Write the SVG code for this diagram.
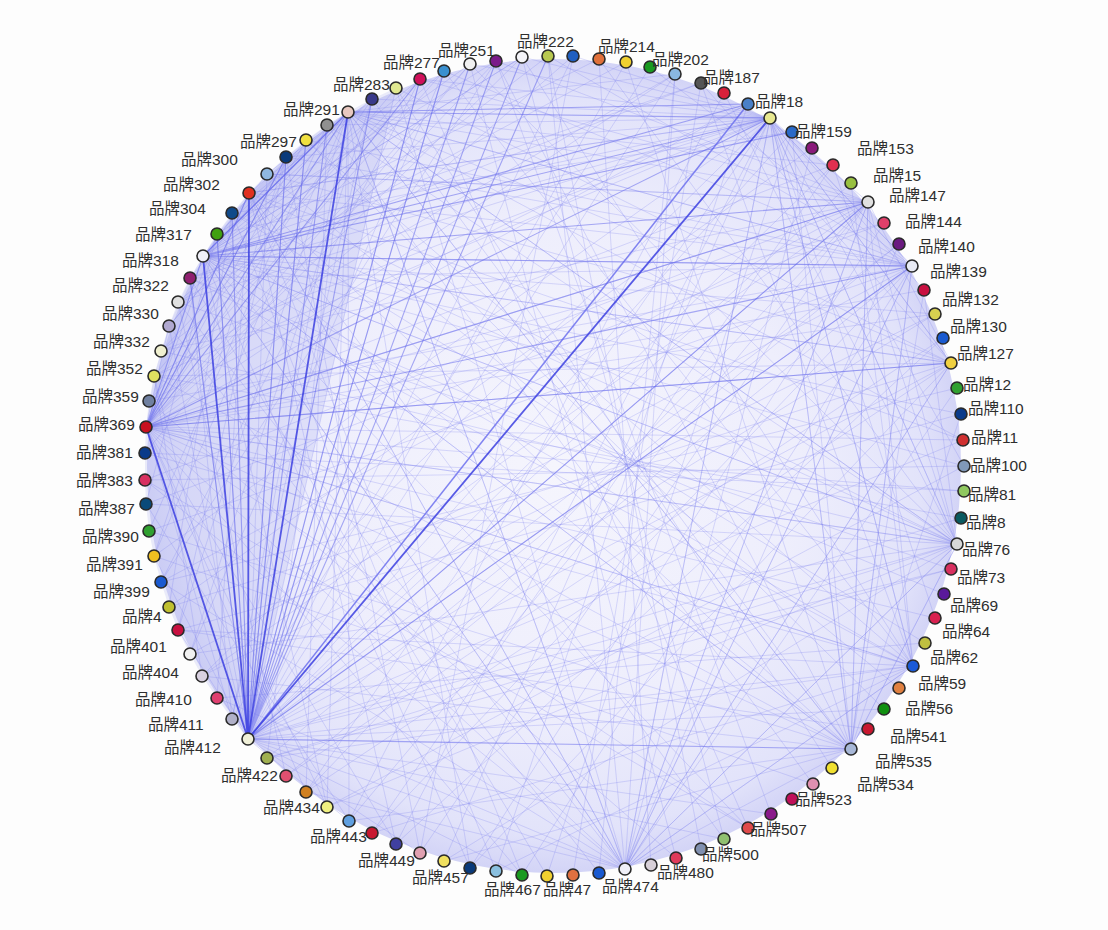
<svg xmlns="http://www.w3.org/2000/svg" width="1108" height="930" viewBox="0 0 1108 930">
<defs>
<radialGradient id="bg" cx="554" cy="466" r="409" gradientUnits="userSpaceOnUse">
<stop offset="0" stop-color="#f5f5fd"/>
<stop offset="0.6" stop-color="#eeeefc"/>
<stop offset="0.9" stop-color="#e2e3fa"/>
<stop offset="1" stop-color="#d2d3f6"/>
</radialGradient>
<style>
.f{fill:none;stroke:#7c80ee;stroke-opacity:.33;stroke-width:.8}
.m{fill:none;stroke:#5a5eec;stroke-opacity:.5;stroke-width:1.1}
.s{fill:none;stroke:#3c40e0;stroke-opacity:.85;stroke-width:1.8}
.n circle{stroke:#2a2a2a;stroke-width:1.6}
.lb text{font-family:"Liberation Sans","Noto Sans CJK SC",sans-serif;font-size:15.5px;fill:#2e2e2e}
</style>
</defs>
<rect width="1108" height="930" fill="#fdfdfd"/>
<circle cx="554" cy="466" r="407" fill="url(#bg)"/>
<polygon points="248,739 232,719 217,698 202,676 190,654 178,630 169,607 161,582 154,556 149,531 146,504 145,480 145,453 146,427 149,401 154,376 161,351 169,326 178,302 190,278 203,256 217,234 232,213 249,193 267,174 286,157 306,140 327,125 348,112 372,99 396,88" fill="#b8bbf2" fill-opacity=".28"/>
<polygon points="146,427 154,376 169,326 190,278 217,234 249,193 286,157 327,125 348,112 203,256" fill="#a8abf0" fill-opacity=".22"/>
<g id="connectors">
<path class="f" d="M248 739L420 79M248 739L286 157M248 739L217 234M248 739L190 278M248 739L169 326M248 739L154 376M248 739L935 314M248 739L951 363M248 739L957 544M248 739L913 666M248 739L963 440M248 739L573 56M248 739L626 62M248 739L675 74M248 739L792 132M248 739L833 165M248 739L625 869M248 739L522 875M248 739L420 853M248 739L349 821M248 739L154 556M248 739L178 630M248 739L724 839M248 739L771 814M248 739L951 569M248 739L306 140M248 739L267 174M248 739L444 71M248 739L396 88M248 739L868 202M248 739L912 266M248 739L851 183M248 739L899 244M248 739L961 518M248 739L884 709"/>
<path class="m" d="M248 739L372 99M248 739L327 125M248 739L232 213M248 739L286 157M248 739L851 749M248 739L420 79M248 739L444 71M248 739L470 64M248 739L496 61M248 739L522 57M248 739L548 56M248 739L217 234M248 739L190 278M248 739L306 140M248 739L868 202M248 739L912 266"/>
<path class="m" d="M248 739L748 104" style="stroke-opacity:.75;stroke-width:1.5"/>
<path class="f" d="M146 427L249 193M146 427L286 157M146 427L951 363M146 427L957 544M146 427L963 440M146 427L851 749M146 427L913 666M146 427L625 869M146 427L470 64M146 427L522 57M146 427L573 56M146 427L675 74M146 427L833 165M146 427L935 314M146 427L964 491M146 427L935 618M146 427L748 828M146 427L522 875M146 427L396 844M146 427L327 807M146 427L232 719M146 427L169 326M146 427L217 234M146 427L306 140M146 427L372 99M146 427L748 104M146 427L924 290M146 427L884 223"/>
<path class="m" d="M146 427L770 118M146 427L203 256M146 427L249 193M146 427L868 202M146 427L912 266M146 427L951 363M146 427L420 79M146 427L286 157"/>
<path class="f" d="M203 256L957 544M203 256L851 749M203 256L625 869M203 256L522 57M203 256L599 59M203 256L701 83M203 256L420 79M203 256L267 174M203 256L372 99M203 256L470 64M203 256L327 807M203 256L470 868M203 256L748 828M203 256L964 466M203 256L935 314M203 256L951 363M203 256L961 414"/>
<path class="m" d="M203 256L770 118M203 256L348 112M203 256L748 104M203 256L792 132M203 256L868 202M203 256L912 266"/>
<path class="f" d="M348 112L868 202M348 112L912 266M348 112L349 821M348 112L625 869M348 112L327 807M348 112L470 868M348 112L178 630M348 112L154 556M348 112L851 749M348 112L957 544M348 112L963 440M348 112L169 326M348 112L217 234M348 112L249 193M348 112L267 174M348 112L951 363M348 112L833 165M348 112L675 74M348 112L267 758M348 112L232 719"/>
<path class="m" d="M348 112L770 118M348 112L203 256M348 112L146 427M348 112L748 104"/>
<path class="f" d="M770 118L249 193M770 118L286 157M770 118L372 99M770 118L420 79M770 118L868 202M770 118L912 266M770 118L924 290M770 118L951 363M770 118L957 544M770 118L913 666M770 118L851 749M770 118L625 869M770 118L935 618M770 118L964 466M770 118L444 861M770 118L396 844M770 118L306 792M770 118L202 676M770 118L154 556M770 118L154 376M770 118L178 302M770 118L217 234M770 118L522 57M770 118L470 64M770 118L573 56M770 118L327 125M770 118L190 278M770 118L161 351"/>
<path class="f" d="M868 202L957 544M868 202L851 749M868 202L625 869M868 202L420 853M868 202L349 821M868 202L202 676M868 202L161 582M868 202L145 480M868 202L161 351M868 202L267 174M868 202L420 79M868 202L496 61M868 202L951 363M868 202L913 666M868 202L306 792M868 202L146 427"/>
<path class="f" d="M912 266L851 749M912 266L625 869M912 266L522 875M912 266L372 833M912 266L286 776M912 266L190 654M912 266L149 531M912 266L149 401M912 266L190 278M912 266L286 157M912 266L444 71M912 266L548 56M912 266L650 67M912 266L770 118M912 266L203 256M912 266L348 112"/>
<path class="f" d="M951 363L625 869M951 363L470 868M951 363L306 792M951 363L169 607M951 363L154 376M951 363L267 174M951 363L396 88M951 363L701 83M951 363L203 256M951 363L770 118"/>
<path class="f" d="M957 544L851 749M957 544L625 869M957 544L444 861M957 544L327 807M957 544L267 758M957 544L190 654M957 544L146 504M957 544L161 351M957 544L232 213M957 544L327 125M957 544L470 64M957 544L599 59M957 544L724 93M957 544L833 165M957 544L924 290M957 544L770 118M957 544L203 256M957 544L348 112M957 544L146 427"/>
<path class="f" d="M913 666L625 869M913 666L496 871M913 666L372 833M913 666L267 758M913 666L178 630M913 666L145 453M913 666L190 278M913 666L306 140M913 666L444 71M913 666L522 57M913 666L701 83M913 666L851 183M913 666L770 118M913 666L203 256M913 666L146 427"/>
<path class="f" d="M851 749L625 869M851 749L444 861M851 749L349 821M851 749L202 676M851 749L149 531M851 749L154 376M851 749L217 234M851 749L372 99M851 749L496 61M851 749L626 62M851 749L792 132M851 749L924 290M851 749L961 414M851 749L770 118M851 749L868 202M851 749L912 266M851 749L957 544M851 749L203 256M851 749L348 112"/>
<path class="f" d="M625 869L306 792M625 869L217 698M625 869L161 582M625 869L145 480M625 869L178 302M625 869L249 193M625 869L396 88M625 869L548 56M625 869L675 74M625 869L812 148M625 869L899 244M625 869L957 388M625 869L770 118M625 869L868 202M625 869L912 266M625 869L951 363M625 869L957 544M625 869L913 666M625 869L203 256M625 869L348 112"/>
<path class="f" d="M249 193L770 118M249 193L912 266M249 193L957 544M249 193L851 749M249 193L625 869M249 193L396 844M249 193L522 875M249 193L724 839M249 193L963 440"/>
<path class="f" d="M573 56L420 853M650 67L232 719M724 93L349 821M812 148L169 607M884 223L146 504M943 338L286 776M961 414L178 630M964 491L145 453M951 569L178 302M925 643L232 213M884 709L306 140M832 768L396 88M771 814L496 61M701 849L548 56M599 873L675 74M547 876L792 132M470 868L884 223M396 844L943 338M327 807L964 466M267 758L951 569M217 698L925 643M178 630L868 729M154 556L813 784M145 480L748 828M149 401L676 858M169 326L599 873M190 278L547 876M232 213L496 871M286 157L420 853M327 125L306 792M372 99L232 719M444 71L190 654M496 61L161 582M522 57L724 839M599 59L651 865M701 83L573 875M748 104L496 871M833 165L372 833M899 244L267 758M935 314L202 676M957 388L161 582M964 466L145 480M961 518L154 376M944 594L190 278M899 688L267 174M813 784L327 125M748 828L420 79M676 858L470 64"/>
<path class="f" d="M146 427L496 61M149 401L444 71M154 376L396 88M169 326L348 112M190 278L306 140M217 234L496 61M178 630L286 157M232 719L190 278M217 698L249 193M190 654L372 99M161 582L420 79M149 531L327 125M146 504L217 234M145 453L470 64M202 676L154 376M306 792L146 427M349 821L146 504M286 776L178 302M161 351L420 79M178 302L444 71M203 256L522 57M232 213L372 99M154 556L286 157M169 607L232 213M161 351L548 56M178 302L626 62M190 278L701 83M232 213L792 132M267 174L868 202M306 140L912 266M149 401L748 104M154 376L675 74"/>
<path class="s" d="M248 739L348 112M248 739L770 118M248 739L203 256M248 739L146 427M248 739L249 193"/>
</g>
<g class="n">
<g id="n1"><circle cx="522" cy="57" r="6" fill="#f4f4f8"/></g>
<g id="n2"><circle cx="548" cy="56" r="6" fill="#b8c850"/></g>
<g id="n3"><circle cx="573" cy="56" r="6" fill="#1f5fc0"/></g>
<g id="n4"><circle cx="599" cy="59" r="6" fill="#e0703a"/></g>
<g id="n5"><circle cx="626" cy="62" r="6" fill="#f0d030"/></g>
<g id="n6"><circle cx="650" cy="67" r="6" fill="#1a9a20"/></g>
<g id="n7"><circle cx="675" cy="74" r="6" fill="#8ab8e0"/></g>
<g id="n8"><circle cx="701" cy="83" r="6" fill="#555555"/></g>
<g id="n9"><circle cx="724" cy="93" r="6" fill="#d8203a"/></g>
<g id="n10"><circle cx="748" cy="104" r="6" fill="#4a80c8"/></g>
<g id="n11"><circle cx="770" cy="118" r="6" fill="#e8e890"/></g>
<g id="n12"><circle cx="792" cy="132" r="6" fill="#2a6ac8"/></g>
<g id="n13"><circle cx="812" cy="148" r="6" fill="#8a1a7a"/></g>
<g id="n14"><circle cx="833" cy="165" r="6" fill="#e03050"/></g>
<g id="n15"><circle cx="851" cy="183" r="6" fill="#98c040"/></g>
<g id="n16"><circle cx="868" cy="202" r="6" fill="#e0e0e0"/></g>
<g id="n17"><circle cx="884" cy="223" r="6" fill="#e0406a"/></g>
<g id="n18"><circle cx="899" cy="244" r="6" fill="#6a1a80"/></g>
<g id="n19"><circle cx="912" cy="266" r="6" fill="#e8eaf4"/></g>
<g id="n20"><circle cx="924" cy="290" r="6" fill="#c81040"/></g>
<g id="n21"><circle cx="935" cy="314" r="6" fill="#d8d050"/></g>
<g id="n22"><circle cx="943" cy="338" r="6" fill="#1a5ad0"/></g>
<g id="n23"><circle cx="951" cy="363" r="6" fill="#f0d040"/></g>
<g id="n24"><circle cx="957" cy="388" r="6" fill="#30a030"/></g>
<g id="n25"><circle cx="961" cy="414" r="6" fill="#0a3a8a"/></g>
<g id="n26"><circle cx="963" cy="440" r="6" fill="#d03030"/></g>
<g id="n27"><circle cx="964" cy="466" r="6" fill="#8098b8"/></g>
<g id="n28"><circle cx="964" cy="491" r="6" fill="#90c860"/></g>
<g id="n29"><circle cx="961" cy="518" r="6" fill="#0a5a60"/></g>
<g id="n30"><circle cx="957" cy="544" r="6" fill="#d8d8d8"/></g>
<g id="n31"><circle cx="951" cy="569" r="6" fill="#d83060"/></g>
<g id="n32"><circle cx="944" cy="594" r="6" fill="#5a1a9a"/></g>
<g id="n33"><circle cx="935" cy="618" r="6" fill="#d82050"/></g>
<g id="n34"><circle cx="925" cy="643" r="6" fill="#c0c040"/></g>
<g id="n35"><circle cx="913" cy="666" r="6" fill="#1a5ad8"/></g>
<g id="n36"><circle cx="899" cy="688" r="6" fill="#e08040"/></g>
<g id="n37"><circle cx="884" cy="709" r="6" fill="#109010"/></g>
<g id="n38"><circle cx="868" cy="729" r="6" fill="#c81830"/></g>
<g id="n39"><circle cx="851" cy="749" r="6" fill="#a8b8d8"/></g>
<g id="n40"><circle cx="832" cy="768" r="6" fill="#f0e030"/></g>
<g id="n41"><circle cx="813" cy="784" r="6" fill="#e090b0"/></g>
<g id="n42"><circle cx="792" cy="799" r="6" fill="#c0105a"/></g>
<g id="n43"><circle cx="771" cy="814" r="6" fill="#8a1a8a"/></g>
<g id="n44"><circle cx="748" cy="828" r="6" fill="#e04a4a"/></g>
<g id="n45"><circle cx="724" cy="839" r="6" fill="#90c070"/></g>
<g id="n46"><circle cx="701" cy="849" r="6" fill="#8090b0"/></g>
<g id="n47"><circle cx="676" cy="858" r="6" fill="#e03a5a"/></g>
<g id="n48"><circle cx="651" cy="865" r="6" fill="#d8d0d8"/></g>
<g id="n49"><circle cx="625" cy="869" r="6" fill="#f0f0f8"/></g>
<g id="n50"><circle cx="599" cy="873" r="6" fill="#1a5ad0"/></g>
<g id="n51"><circle cx="573" cy="875" r="6" fill="#e07040"/></g>
<g id="n52"><circle cx="547" cy="876" r="6" fill="#f0d030"/></g>
<g id="n53"><circle cx="522" cy="875" r="6" fill="#1a9a20"/></g>
<g id="n54"><circle cx="496" cy="871" r="6" fill="#8ac0e0"/></g>
<g id="n55"><circle cx="470" cy="868" r="6" fill="#0a3a7a"/></g>
<g id="n56"><circle cx="444" cy="861" r="6" fill="#f0e060"/></g>
<g id="n57"><circle cx="420" cy="853" r="6" fill="#e0a0b0"/></g>
<g id="n58"><circle cx="396" cy="844" r="6" fill="#4040a0"/></g>
<g id="n59"><circle cx="372" cy="833" r="6" fill="#c81830"/></g>
<g id="n60"><circle cx="349" cy="821" r="6" fill="#60a0e0"/></g>
<g id="n61"><circle cx="327" cy="807" r="6" fill="#f0f080"/></g>
<g id="n62"><circle cx="306" cy="792" r="6" fill="#d08020"/></g>
<g id="n63"><circle cx="286" cy="776" r="6" fill="#e05070"/></g>
<g id="n64"><circle cx="267" cy="758" r="6" fill="#a0b050"/></g>
<g id="n65"><circle cx="248" cy="739" r="6" fill="#f0f0d8"/></g>
<g id="n66"><circle cx="232" cy="719" r="6" fill="#b0b0c8"/></g>
<g id="n67"><circle cx="217" cy="698" r="6" fill="#e04070"/></g>
<g id="n68"><circle cx="202" cy="676" r="6" fill="#d8d0e0"/></g>
<g id="n69"><circle cx="190" cy="654" r="6" fill="#f0f0f0"/></g>
<g id="n70"><circle cx="178" cy="630" r="6" fill="#c81040"/></g>
<g id="n71"><circle cx="169" cy="607" r="6" fill="#c0c030"/></g>
<g id="n72"><circle cx="161" cy="582" r="6" fill="#1a5ad0"/></g>
<g id="n73"><circle cx="154" cy="556" r="6" fill="#f0c020"/></g>
<g id="n74"><circle cx="149" cy="531" r="6" fill="#30a030"/></g>
<g id="n75"><circle cx="146" cy="504" r="6" fill="#0a4a7a"/></g>
<g id="n76"><circle cx="145" cy="480" r="6" fill="#d83060"/></g>
<g id="n77"><circle cx="145" cy="453" r="6" fill="#0a3a8a"/></g>
<g id="n78"><circle cx="146" cy="427" r="6" fill="#c81020"/></g>
<g id="n79"><circle cx="149" cy="401" r="6" fill="#7080a0"/></g>
<g id="n80"><circle cx="154" cy="376" r="6" fill="#e0e060"/></g>
<g id="n81"><circle cx="161" cy="351" r="6" fill="#f0f0d0"/></g>
<g id="n82"><circle cx="169" cy="326" r="6" fill="#b0a8d0"/></g>
<g id="n83"><circle cx="178" cy="302" r="6" fill="#e0e0e0"/></g>
<g id="n84"><circle cx="190" cy="278" r="6" fill="#902070"/></g>
<g id="n85"><circle cx="203" cy="256" r="6" fill="#f0f0f8"/></g>
<g id="n86"><circle cx="217" cy="234" r="6" fill="#40a010"/></g>
<g id="n87"><circle cx="232" cy="213" r="6" fill="#104a8a"/></g>
<g id="n88"><circle cx="249" cy="193" r="6" fill="#e03020"/></g>
<g id="n89"><circle cx="267" cy="174" r="6" fill="#90b8e0"/></g>
<g id="n90"><circle cx="286" cy="157" r="6" fill="#0a3a7a"/></g>
<g id="n91"><circle cx="306" cy="140" r="6" fill="#f0e040"/></g>
<g id="n92"><circle cx="327" cy="125" r="6" fill="#909090"/></g>
<g id="n93"><circle cx="348" cy="112" r="6" fill="#e8c8c0"/></g>
<g id="n94"><circle cx="372" cy="99" r="6" fill="#3a3a8a"/></g>
<g id="n95"><circle cx="396" cy="88" r="6" fill="#e0e890"/></g>
<g id="n96"><circle cx="420" cy="79" r="6" fill="#d0105a"/></g>
<g id="n97"><circle cx="444" cy="71" r="6" fill="#3a90d0"/></g>
<g id="n98"><circle cx="470" cy="64" r="6" fill="#f0f0f0"/></g>
<g id="n99"><circle cx="496" cy="61" r="6" fill="#7a1a8a"/></g>
</g>
<g id="labels" class="lb">
<text x="333" y="90">品牌283</text>
<text x="383" y="68">品牌277</text>
<text x="438" y="56">品牌251</text>
<text x="517" y="47">品牌222</text>
<text x="598" y="52">品牌214</text>
<text x="652" y="65">品牌202</text>
<text x="703" y="83">品牌187</text>
<text x="755" y="107">品牌18</text>
<text x="795" y="137">品牌159</text>
<text x="857" y="154">品牌153</text>
<text x="873" y="181">品牌15</text>
<text x="889" y="201">品牌147</text>
<text x="905" y="227">品牌144</text>
<text x="918" y="252">品牌140</text>
<text x="930" y="277">品牌139</text>
<text x="942" y="305">品牌132</text>
<text x="950" y="332">品牌130</text>
<text x="957" y="359">品牌127</text>
<text x="963" y="390">品牌12</text>
<text x="968" y="414">品牌110</text>
<text x="971" y="443">品牌11</text>
<text x="970" y="471">品牌100</text>
<text x="968" y="500">品牌81</text>
<text x="966" y="528">品牌8</text>
<text x="962" y="555">品牌76</text>
<text x="957" y="583">品牌73</text>
<text x="950" y="611">品牌69</text>
<text x="942" y="637">品牌64</text>
<text x="930" y="663">品牌62</text>
<text x="918" y="689">品牌59</text>
<text x="905" y="714">品牌56</text>
<text x="890" y="742">品牌541</text>
<text x="875" y="767">品牌535</text>
<text x="857" y="790">品牌534</text>
<text x="795" y="805">品牌523</text>
<text x="750" y="835">品牌507</text>
<text x="702" y="860">品牌500</text>
<text x="657" y="878">品牌480</text>
<text x="602" y="892">品牌474</text>
<text x="543" y="895">品牌47</text>
<text x="484" y="895">品牌467</text>
<text x="412" y="883">品牌457</text>
<text x="358" y="866">品牌449</text>
<text x="310" y="842">品牌443</text>
<text x="263" y="813">品牌434</text>
<text x="221" y="781">品牌422</text>
<text x="164" y="753">品牌412</text>
<text x="148" y="730">品牌411</text>
<text x="135" y="705">品牌410</text>
<text x="122" y="678">品牌404</text>
<text x="110" y="652">品牌401</text>
<text x="122" y="622">品牌4</text>
<text x="93" y="597">品牌399</text>
<text x="86" y="570">品牌391</text>
<text x="82" y="542">品牌390</text>
<text x="78" y="514">品牌387</text>
<text x="76" y="486">品牌383</text>
<text x="76" y="458">品牌381</text>
<text x="78" y="430">品牌369</text>
<text x="82" y="402">品牌359</text>
<text x="86" y="374">品牌352</text>
<text x="93" y="347">品牌332</text>
<text x="102" y="319">品牌330</text>
<text x="112" y="291">品牌322</text>
<text x="122" y="266">品牌318</text>
<text x="135" y="240">品牌317</text>
<text x="149" y="214">品牌304</text>
<text x="163" y="190">品牌302</text>
<text x="181" y="165">品牌300</text>
<text x="240" y="147">品牌297</text>
<text x="283" y="115">品牌291</text>
</g>
</svg>
